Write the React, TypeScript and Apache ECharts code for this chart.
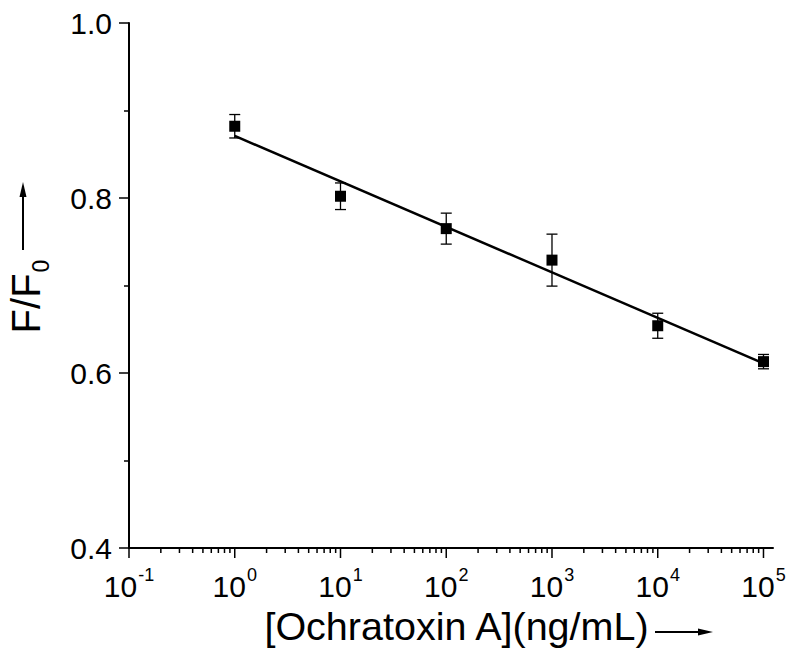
import React, { useEffect, useRef } from 'react';
import * as echarts from 'echarts';

// Data
const concentrations = [1, 10, 100, 1000, 10000, 100000]; // ng/mL
const ratios = [0.882, 0.802, 0.765, 0.729, 0.654, 0.613]; // F/F0
const errors = [0.0134, 0.0152, 0.0177, 0.0297, 0.0143, 0.0082];
const fitConc = [1, 100000];
const fitRatio = [0.871, 0.611];
const xDecades = [-1, 0, 1, 2, 3, 4, 5];
const minorMultipliers = [2, 3, 4, 5, 6, 7, 8, 9];

const FONT = 'Liberation Sans, Arial, Helvetica, sans-serif';

export default function App() {
  const ref = useRef<HTMLDivElement>(null);

  useEffect(() => {
    if (!ref.current) return;
    const chart = echarts.init(ref.current, null, { renderer: 'svg' });

    const logX = concentrations.map((c) => Math.log10(c));
    const points = logX.map((x, i) => [x, ratios[i]]);
    const bars = logX.map((x, i) => [x, ratios[i] - errors[i], ratios[i] + errors[i]]);
    const fit = fitConc.map((c, i) => [Math.log10(c), fitRatio[i]]);

    const tickData: number[][] = [];
    xDecades.forEach((d) => tickData.push([d, 1]));
    for (let i = 0; i < xDecades.length - 1; i++) {
      minorMultipliers.forEach((k) => tickData.push([xDecades[i] + Math.log10(k), 0]));
    }

    const option: any = {
      animation: false,
      backgroundColor: '#fff',
      grid: { left: 129, top: 23, width: 644, height: 525, containLabel: false, outerBoundsMode: 'none' },
      xAxis: {
        type: 'value',
        min: -1,
        max: 5.09,
        interval: 1,
        axisLine: { show: true, onZero: false, lineStyle: { color: '#000', width: 2 } },
        axisTick: { show: false },
        splitLine: { show: false },
        axisLabel: {
          showMaxLabel: false,
          margin: 21,
          color: '#000',
          fontFamily: FONT,
          formatter: (v: number) => {
            if (Math.abs(v - Math.round(v)) > 1e-6) return '';
            return `{b|10}{s|${Math.round(v)}}`;
          },
          rich: {
            b: { fontSize: 30, fontFamily: FONT, color: '#000', verticalAlign: 'bottom', lineHeight: 32 },
            s: { fontSize: 18, fontFamily: FONT, color: '#000', verticalAlign: 'bottom', lineHeight: 18, padding: [0, 0, 17, 1] },
          },
        },
        name: '[Ochratoxin A](ng/mL)',
        nameLocation: 'middle',
        nameGap: 55,
        nameTextStyle: { fontSize: 39.5, fontFamily: FONT, color: '#000', padding: [0, 0, 0, 11] },
      },
      yAxis: {
        type: 'value',
        min: 0.4,
        max: 1.0,
        interval: 0.2,
        axisLine: { show: true, onZero: false, lineStyle: { color: '#000', width: 2 } },
        axisTick: { show: true, length: 10, lineStyle: { color: '#000', width: 1.5 } },
        minorTick: { show: true, splitNumber: 2, length: 5, lineStyle: { color: '#000', width: 1.5 } },
        splitLine: { show: false },
        axisLabel: {
          margin: 17,
          color: '#000',
          fontSize: 30,
          fontFamily: FONT,
          formatter: (v: number) => v.toFixed(1),
        },
        name: '{a|F/F}{b|0}',
        nameLocation: 'middle',
        nameRotate: 90,
        nameGap: 83,
        nameTextStyle: {
          padding: [0, 22, 0, 0],
          rich: {
            a: { fontSize: 40, fontFamily: FONT, color: '#000', verticalAlign: 'top', lineHeight: 40 },
            b: { fontSize: 23, fontFamily: FONT, color: '#000', verticalAlign: 'top', lineHeight: 23, padding: [23, 0, 0, 1] },
          },
        },
      },
      series: [
        {
          type: 'custom',
          name: 'xticks',
          silent: true,
          clip: false,
          data: tickData,
          encode: { x: 0 },
          renderItem: (params: any, api: any) => {
            const p = api.coord([api.value(0), 0.4]);
            const len = api.value(1) ? 10 : 5;
            return {
              type: 'line',
              shape: { x1: p[0], y1: p[1], x2: p[0], y2: p[1] + len },
              style: { stroke: '#000', lineWidth: 1.5 },
            };
          },
        },
        {
          type: 'line',
          name: 'fit',
          data: fit,
          showSymbol: false,
          symbol: 'none',
          lineStyle: { color: '#000', width: 2.5 },
          z: 2,
        },
        {
          type: 'custom',
          name: 'errors',
          silent: true,
          data: bars,
          encode: { x: 0, y: [1, 2] },
          renderItem: (params: any, api: any) => {
            const x = api.value(0);
            const lo = api.coord([x, api.value(1)]);
            const hi = api.coord([x, api.value(2)]);
            const w = 5.5;
            const st = { stroke: '#000', lineWidth: 1.3 };
            return {
              type: 'group',
              children: [
                { type: 'line', shape: { x1: lo[0], y1: lo[1], x2: hi[0], y2: hi[1] }, style: st },
                { type: 'line', shape: { x1: lo[0] - w, y1: lo[1], x2: lo[0] + w, y2: lo[1] }, style: st },
                { type: 'line', shape: { x1: hi[0] - w, y1: hi[1], x2: hi[0] + w, y2: hi[1] }, style: st },
              ],
            };
          },
          z: 3,
        },
        {
          type: 'scatter',
          name: 'data',
          data: points,
          symbol: 'rect',
          symbolSize: 11,
          itemStyle: { color: '#000', opacity: 1 },
          z: 4,
        },
      ],
      graphic: [
        { type: 'line', shape: { x1: 23, y1: 250, x2: 23, y2: 195 }, style: { stroke: '#000', lineWidth: 2 } },
        { type: 'polygon', shape: { points: [[23, 182], [19.5, 197], [26.5, 197]] }, style: { fill: '#000' } },
        { type: 'line', shape: { x1: 655, y1: 632, x2: 700, y2: 632 }, style: { stroke: '#000', lineWidth: 2 } },
        { type: 'polygon', shape: { points: [[713, 632], [698, 628.5], [698, 635.5]] }, style: { fill: '#000' } },
      ],
    };

    chart.setOption(option);
    return () => chart.dispose();
  }, []);

  return <div ref={ref} style={{ position: 'absolute', left: 0, top: 0, width: 796, height: 657 }} />;
}
